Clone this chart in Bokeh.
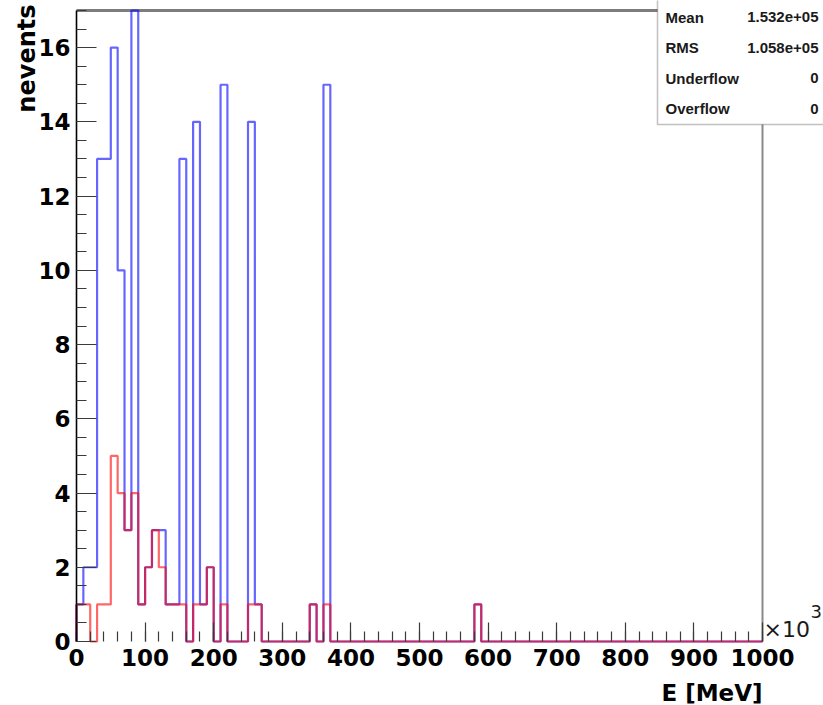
import numpy as np
from bokeh.plotting import figure
from bokeh.models import Range1d, Label, BoxAnnotation, FixedTicker
from bokeh.embed import file_html
from bokeh.resources import INLINE

# ---- data (E in units of 10^3 MeV) ----
bin_width = 10
x_lo, x_hi = 0, 1000
y_lo, y_hi = 0, 17

blue_lo = [0, 10, 20, 30, 40, 50, 60, 70, 80, 90, 100, 110, 120, 130, 140,
           150, 170, 180, 190, 210, 250, 260, 340, 360, 580]
blue_n = [1, 2, 2, 13, 13, 16, 10, 3, 17, 1, 2, 3, 3, 1, 1,
          13, 14, 1, 2, 15, 14, 1, 1, 15, 1]

red_lo = [0, 10, 30, 40, 50, 60, 70, 80, 90, 100, 110, 120, 130, 140,
          150, 170, 180, 190, 210, 250, 260, 340, 360, 580]
red_n = [1, 1, 1, 1, 5, 4, 3, 4, 1, 2, 3, 2, 1, 1,
         1, 1, 1, 2, 1, 1, 1, 1, 1, 1]

x_ticks = list(range(0, 1001, 100))
x_minor = list(range(0, 1001, 20))
y_ticks = list(range(0, 17, 2))
y_minor = [i * 0.5 for i in range(0, 35)]

stat_names = ["Mean", "RMS", "Underflow", "Overflow"]
stat_values = ["1.532e+05", "1.058e+05", "0", "0"]


def outline(lo, n):
    edges = np.arange(x_lo, x_hi + bin_width, bin_width)
    counts = np.zeros(len(edges) - 1)
    for l, c in zip(lo, n):
        counts[int((l - x_lo) // bin_width)] = c
    xs = np.repeat(edges, 2)
    ys = np.concatenate([[0], np.repeat(counts, 2), [0]])
    return xs, ys


# ---- layout (pixels) ----
W, H = 823, 705
PX_L, PX_R = 76, 762     # where x_lo / x_hi sit
PY_T, PY_B = 10, 641     # where y_hi / y_lo sit
sx = (PX_R - PX_L) / (x_hi - x_lo)
sy = (PY_B - PY_T) / (y_hi - y_lo)
x_range = Range1d(x_lo - PX_L / sx, x_lo + (W - PX_L) / sx)
y_range = Range1d(y_lo - (H - PY_B) / sy, y_lo + PY_B / sy)

p = figure(width=W, height=H, x_range=x_range, y_range=y_range,
           output_backend="svg", toolbar_location=None,
           min_border=0, min_border_left=0, min_border_right=0,
           min_border_top=0, min_border_bottom=0)
p.title.visible = False
p.xgrid.visible = False
p.ygrid.visible = False
p.background_fill_color = "white"
p.border_fill_color = "white"
p.outline_line_color = None

for ax, ticks, minor in ((p.xaxis, x_ticks, x_minor), (p.yaxis, y_ticks, y_minor)):
    ax.fixed_location = 0
    ax.ticker = FixedTicker(ticks=ticks, minor_ticks=minor)
    ax.major_tick_out = 0
    ax.minor_tick_out = 0
    ax.major_tick_line_color = "#3a3a3a"
    ax.minor_tick_line_color = "#3a3a3a"
    ax.major_tick_line_width = 1.2
    ax.minor_tick_line_width = 1.2
    ax.major_label_text_font = "DejaVu Sans"
    ax.major_label_text_font_style = "bold"
    ax.major_label_text_font_size = "23px"
    ax.major_label_text_color = "black"

p.xaxis.bounds = (x_lo, x_hi)
p.yaxis.bounds = (y_lo, y_hi)
p.xaxis.axis_line_color = None
p.yaxis.axis_line_color = "black"
p.yaxis.axis_line_width = 1.6
p.xaxis.major_tick_in = 19
p.xaxis.minor_tick_in = 10
p.yaxis.major_tick_in = 20
p.yaxis.minor_tick_in = 10
p.xaxis.major_label_standoff = 7
p.yaxis.major_label_standoff = 6

# frame top / right borders
p.segment(x0=[x_lo], y0=[y_hi], x1=[x_hi], y1=[y_hi], line_color="#7d7d7d", line_width=3)
p.segment(x0=[x_hi], y0=[y_lo], x1=[x_hi], y1=[y_hi], line_color="#8a8a8a", line_width=2)

bx, by = outline(blue_lo, blue_n)
rx, ry = outline(red_lo, red_n)
p.line(bx, by, line_color="#0000ff", line_alpha=0.6, line_width=2.2)
p.line(rx, ry, line_color="#ff0000", line_alpha=0.6, line_width=2.2)

# stats box (screen units, origin bottom-left of canvas)
p.add_layout(BoxAnnotation(left=657, right=W + 20, bottom=H - 124, top=H + 20,
                           left_units="screen", right_units="screen",
                           bottom_units="screen", top_units="screen",
                           fill_color="white", fill_alpha=1.0,
                           line_color="#333333", line_width=1.5))
row_y = [16.5, 47, 77.5, 108]
for name, val, yy in zip(stat_names, stat_values, row_y):
    p.add_layout(Label(x=665, y=H - yy, x_units="screen", y_units="screen", text=name,
                       text_baseline="middle", text_align="left",
                       text_font="Liberation Sans", text_font_style="bold",
                       text_font_size="15px", text_color="#1a1a1a"))
    p.add_layout(Label(x=818, y=H - yy, x_units="screen", y_units="screen", text=val,
                       text_baseline="middle", text_align="right",
                       text_font="Liberation Sans", text_font_style="bold",
                       text_font_size="15px", text_color="#1a1a1a"))

# axis titles
p.add_layout(Label(x=26, y=H - 4, x_units="screen", y_units="screen", text="nevents",
                   angle=np.pi / 2, text_align="right", text_baseline="middle",
                   text_font="DejaVu Sans", text_font_style="bold", text_font_size="24px",
                   text_color="black"))
p.add_layout(Label(x=PX_R, y=H - 692, x_units="screen", y_units="screen", text="E [MeV]",
                   text_align="right", text_baseline="alphabetic",
                   text_font="DejaVu Sans", text_font_style="bold", text_font_size="23px",
                   text_color="black"))
p.add_layout(Label(x=PX_R + 1, y=H - 628.5, x_units="screen", y_units="screen", text="×10",
                   text_align="left", text_baseline="middle",
                   text_font="DejaVu Sans", text_font_size="22px", text_color="#1a1a1a"))
p.add_layout(Label(x=PX_R + 48, y=H - 611, x_units="screen", y_units="screen", text="3",
                   text_align="left", text_baseline="middle",
                   text_font="DejaVu Sans", text_font_size="18px", text_color="#1a1a1a"))

open("out.html", "w").write(file_html(p, INLINE))
